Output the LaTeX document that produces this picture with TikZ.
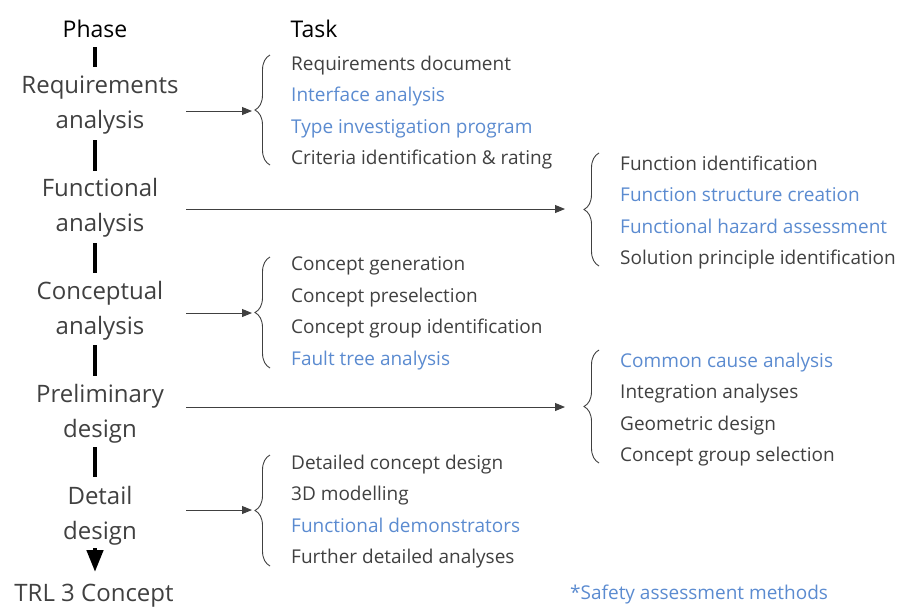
\documentclass[tikz,border=0pt]{standalone}
\usepackage{fontspec}
\setmainfont{Open Sans}
\usetikzlibrary{arrows.meta,decorations.pathreplacing}
\definecolor{txt}{HTML}{404040}
\definecolor{sam}{HTML}{5B8BD0}
\tikzset{
  phase/.style={align=center, text=txt, font=\fontsize{24}{35.5}\selectfont, inner sep=0pt},
  head/.style={text=black, font=\fontsize{23}{27}\selectfont, inner sep=0pt},
  tasks/.style={align=left, anchor=west, text=txt, font=\fontsize{19}{31.6}\selectfont, inner sep=0pt},
  bar/.style={line width=4.5pt, black},
  link/.style={draw=txt, line width=0.9pt, -{Triangle[length=10pt,width=8pt]}},
  brc/.style={draw=txt, line width=0.9pt, decorate,
    decoration={brace, mirror, amplitude=15pt, aspect=0.5}},
}
\newcommand{\sa}[1]{\textcolor{sam}{#1}}
\begin{document}
\begin{tikzpicture}[x=1pt,y=-1pt]
\useasboundingbox (0,0) rectangle (900,606);

% phase column
\node[head] (ph) at (95,29) {Phase};
\node[head] (tk) at (314,29) {Task};
\node[phase] (p1) at (100,105) {Requirements\\analysis};
\node[phase] (p2) at (100,208) {Functional\\analysis};
\node[phase] (p3) at (100,311) {Conceptual\\analysis};
\node[phase] (p4) at (100,414) {Preliminary\\design};
\node[phase] (p5) at (100,516) {Detail\\design};
\node[phase] (trl) at (94,596) {TRL 3 Concept};

% bars between phases
\coordinate (c0a) at (95,47);  \coordinate (c0b) at (95,67);
\coordinate (c1a) at (95,140); \coordinate (c1b) at (95,171);
\coordinate (c2a) at (95,243); \coordinate (c2b) at (95,273);
\coordinate (c3a) at (95,345); \coordinate (c3b) at (95,376);
\coordinate (c4a) at (95,447); \coordinate (c4b) at (95,477);
\coordinate (c5a) at (95,548); \coordinate (c5b) at (95,572);
\draw[bar] (c0a) -- (c0b);
\draw[bar] (c1a) -- (c1b);
\draw[bar] (c2a) -- (c2b);
\draw[bar] (c3a) -- (c3b);
\draw[bar] (c4a) -- (c4b);
\draw[bar, -{Triangle[length=22pt,width=16pt]}] (c5a) -- (c5b);

% task groups
\node[tasks] (t1) at (291,112.5) {Requirements document\\\sa{Interface analysis}\\\sa{Type investigation program}\\Criteria identification \& rating};
\node[tasks] (t2) at (620,212.5) {Function identification\\\sa{Function structure creation}\\\sa{Functional hazard assessment}\\Solution principle identification};
\node[tasks] (t3) at (291,313.5) {Concept generation\\Concept preselection\\Concept group identification\\\sa{Fault tree analysis}};
\node[tasks] (t4) at (620,409.5) {\sa{Common cause analysis}\\Integration analyses\\Geometric design\\Concept group selection};
\node[tasks] (t5) at (291,511.5) {Detailed concept design\\3D modelling\\\sa{Functional demonstrators}\\Further detailed analyses};
\node[tasks, text=sam] (note) at (570,595) {*Safety assessment methods};

% braces
\coordinate (b1t) at (270,55);  \coordinate (b1b) at (270,165);
\coordinate (b2t) at (599,153); \coordinate (b2b) at (599,266);
\coordinate (b3t) at (270,257); \coordinate (b3b) at (270,368);
\coordinate (b4t) at (599,350); \coordinate (b4b) at (599,463);
\coordinate (b5t) at (270,455); \coordinate (b5b) at (270,566);
\draw[brc] (b1t) -- (b1b);
\draw[brc] (b2t) -- (b2b);
\draw[brc] (b3t) -- (b3b);
\draw[brc] (b4t) -- (b4b);
\draw[brc] (b5t) -- (b5b);

% links from phases to task braces
\coordinate (a1) at (186,111); \coordinate (e1) at (252,111);
\coordinate (a2) at (186,209); \coordinate (e2) at (565,209);
\coordinate (a3) at (186,313); \coordinate (e3) at (252,313);
\coordinate (a4) at (186,407); \coordinate (e4) at (565,407);
\coordinate (a5) at (186,510); \coordinate (e5) at (252,510);
\draw[link] (a1) -- (e1);
\draw[link] (a2) -- (e2);
\draw[link] (a3) -- (e3);
\draw[link] (a4) -- (e4);
\draw[link] (a5) -- (e5);
\end{tikzpicture}
\end{document}
